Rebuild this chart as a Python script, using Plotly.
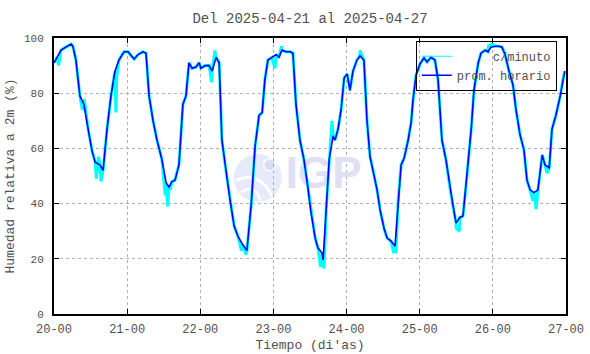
import plotly.graph_objects as go

# ---- data (hours since 2025-04-20 00:00, relative humidity %) ----
horas = [0.0, 1.0, 2.3, 3.9, 5.6, 6.2, 7.2, 8.5, 9.8, 11.2, 12.5, 13.5, 15.1, 16.1, 17.4, 18.7, 20.0, 21.3, 23.0,
         24.3, 25.3, 26.3, 27.6, 29.2, 30.2, 31.2, 32.5, 33.8, 35.4, 36.8, 37.7, 38.7, 39.7, 41.0, 42.3, 43.3, 44.3,
         45.3, 46.6, 47.6, 48.2, 49.6, 50.9, 51.9, 53.2, 54.2, 55.1, 56.4, 57.8, 59.1, 60.4, 62.0, 63.3, 64.7, 66.0,
         67.3, 68.3, 69.2, 70.2, 71.5, 72.9, 73.8, 74.8, 76.1, 77.5, 78.4, 79.4, 80.7, 82.0, 83.0, 84.3, 85.7, 86.6,
         88.0, 88.3, 89.3, 90.3, 91.6, 92.2, 93.2, 94.2, 95.2, 96.2, 97.1, 98.1, 99.4, 100.4, 101.7, 102.7, 103.7,
         104.7, 106.0, 107.0, 108.3, 109.3, 110.6, 111.9, 112.9, 113.9, 114.9, 116.2, 117.2, 117.8, 118.8, 120.1,
         121.4, 122.4, 123.7, 125.0, 126.0, 127.3, 128.6, 130.0, 130.9, 131.9, 133.2, 134.2, 135.5, 136.9, 137.8,
         139.2, 140.1, 141.5, 142.4, 143.4, 144.7, 146.0, 147.0, 148.0, 149.3, 150.6, 151.6, 152.9, 154.2, 155.2,
         156.2, 157.5, 158.8, 160.2, 161.1, 162.5, 163.4, 164.7, 166.1, 167.0, 167.6]
prom_horario = [91, 93, 95.6, 96.7, 97.8, 97, 92, 79, 76, 67, 59, 55, 54, 52, 67, 79, 88, 92, 95,
                95, 93.5, 92.4, 94, 95, 94.5, 79, 70, 63, 56, 47.5, 46, 48, 48.5, 54, 76, 79, 91,
                89, 89.5, 91, 89, 90, 90, 88, 93, 91, 63, 52, 41, 32, 28, 25, 23, 39.5, 61,
                72, 73, 85, 92, 93, 94, 93, 95.6, 95, 95, 94.5, 76, 63, 56, 48.5, 37, 27.5, 24,
                22, 19.6, 37.7, 56, 64.5, 63, 67, 74, 85.5, 87, 81, 88, 92, 93.5, 92, 70, 57,
                52, 45, 37.7, 31, 27.5, 26.4, 24.6, 41, 54, 56.5, 63, 69.5, 77.5, 86.6, 90.6,
                92.8, 91.3, 93, 92, 85, 63, 56, 45, 39.5, 33, 35, 35.5, 50, 67, 81,
                91, 94.5, 95.6, 95, 96.7, 97, 97, 96.7, 94, 88, 83, 74, 65, 59.5, 48.5,
                45, 44, 45, 57.6, 54, 53, 67, 72, 79, 85, 88]

# per-minute excursions (hour, value)
pico_horas = [1.5, 9.3, 9.9, 13.9, 14.6, 15.4, 20.3, 20.6, 36.5, 37.3, 38.2, 51.7, 52.8, 61.5, 63.0,
              72.5, 74.6, 87.5, 88.6, 91.2, 100.4, 111.5, 112.2, 132.0, 133.0, 142.6, 143.5,
              157.2, 158.2, 161.8]
pico_vals = [90, 74, 78, 49, 57, 48, 73, 86, 43, 39, 45, 84, 95.5, 23, 21.5,
             89, 97, 17, 16.5, 70, 95.5, 22, 22, 31, 30, 97.5, 98,
             41, 38, 51]

dias = ["20-00", "21-00", "22-00", "23-00", "24-00", "25-00", "26-00", "27-00"]
y_ticks = [0, 20, 40, 60, 80, 100]

# merged per-minute series
pares = sorted(list(zip(horas, prom_horario)) + list(zip(pico_horas, pico_vals)))
min_t = [p[0] for p in pares]
min_v = [p[1] for p in pares]

MONO = "Liberation Mono"
TXT = "#505050"

fig = go.Figure()

# watermark text (below data)
fig.add_trace(go.Scatter(x=[88.5], y=[49.5], mode="text", text=["<b>IGP</b>"],
                         textfont=dict(family="Liberation Sans", size=44, color="#e0e0f4"),
                         showlegend=False, hoverinfo="skip", cliponaxis=False))

fig.add_trace(go.Scatter(x=min_t, y=min_v, mode="lines", line=dict(color="#00ffff", width=3.0),
                         showlegend=False, hoverinfo="skip"))
fig.add_trace(go.Scatter(x=horas, y=prom_horario, mode="lines", line=dict(color="#0000ff", width=1.6),
                         showlegend=False))

# legend entries
fig.add_trace(go.Scatter(x=[None], y=[None], mode="lines", line=dict(color="#00ffff", width=1),
                         name="\u00a0" * 5 + "c/minuto"))
fig.add_trace(go.Scatter(x=[None], y=[None], mode="lines", line=dict(color="#0000ff", width=1.5),
                         name="prom. horario"))

# watermark logo circle
cx, cy, r = 0.398, 0.493, 24
rx, ry = r / 512, r / 276
fig.add_shape(type="circle", xref="paper", yref="paper", x0=cx - rx, x1=cx + rx, y0=cy - ry, y1=cy + ry,
              fillcolor="#e6eafa", line=dict(width=0), layer="below")
fig.add_shape(type="path", xref="paper", yref="paper", layer="below",
              path=f"M {cx-rx*0.9} {cy-ry*0.1} Q {cx} {cy+ry*0.35} {cx+rx*0.6} {cy-ry*0.75}",
              line=dict(color="white", width=3))
fig.add_shape(type="path", xref="paper", yref="paper", layer="below",
              path=f"M {cx-rx*0.7} {cy-ry*0.6} Q {cx-rx*0.1} {cy-ry*0.2} {cx+rx*0.1} {cy-ry*0.95}",
              line=dict(color="white", width=2.5))
fig.add_shape(type="circle", xref="paper", yref="paper", layer="below",
              x0=cx + rx * 0.25, x1=cx + rx * 0.75, y0=cy + ry * 0.3, y1=cy + ry * 0.8,
              fillcolor="#dadcf2", line=dict(color="white", width=1.5))

axis_common = dict(showline=True, linecolor="black", linewidth=2, mirror="allticks",
                   ticks="inside", ticklen=5, tickcolor="black", tickwidth=1,
                   showgrid=True, gridcolor="#b0b0b0", griddash="dot", gridwidth=1,
                   zeroline=False, automargin=False)

fig.update_xaxes(range=[0, 168], tickvals=[24 * i for i in range(len(dias))], ticktext=dias,
                 tickfont=dict(family=MONO, size=12, color=TXT), ticklabelstandoff=3,
                 title=dict(text="Tiempo (di'as)", font=dict(family=MONO, size=13, color=TXT), standoff=3),
                 **axis_common)
fig.update_yaxes(range=[0, 100], tickvals=y_ticks, ticktext=[str(v) for v in y_ticks],
                 tickfont=dict(family=MONO, size=11, color=TXT), ticklabelstandoff=6,
                 title=dict(text="Humedad relativa a 2m (%)", font=dict(family=MONO, size=13, color=TXT), standoff=6),
                 **axis_common)

fig.update_layout(
    width=590, height=354,
    margin=dict(l=54, r=24, t=38, b=40),
    paper_bgcolor="white", plot_bgcolor="white",
    title=dict(text="Del 2025-04-21 al 2025-04-27", x=310 / 590, xanchor="center",
               y=1 - 18 / 354, yanchor="middle", yref="container",
               font=dict(family=MONO, size=14, color=TXT)),
    legend=dict(x=0.982, y=0.99, xanchor="right", yanchor="top", bgcolor="rgba(0,0,0,0)",
                bordercolor="black", borderwidth=1, font=dict(family=MONO, size=12, color=TXT),
                tracegroupgap=0, itemwidth=30),
    showlegend=True,
)

fig.write_html("out.html")
